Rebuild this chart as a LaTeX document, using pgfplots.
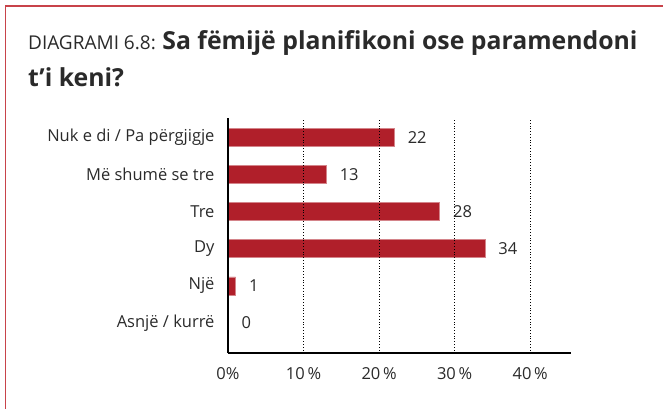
\documentclass[border=0pt]{standalone}
\usepackage{pgfplots}
\pgfplotsset{compat=1.18}
\usepackage{fontspec}
\setmainfont{Open Sans}
\definecolor{barred}{HTML}{B01F2A}
\definecolor{framered}{HTML}{C8434A}
\definecolor{txt}{HTML}{2A2A2A}
\begin{document}
\begin{tikzpicture}[x=1pt,y=1pt]
\useasboundingbox (0,0) rectangle (663,409);
\draw[framered, line width=1.5pt] (5.5,0) -- (5.5,403) -- (663,403);
\node[anchor=base west, inner sep=0, text=txt] at (28,359) {\fontsize{19}{22}\selectfont DIAGRAMI 6.8: \fontsize{24.8}{28}\selectfont\bfseries Sa fëmijë planifikoni ose paramendoni};
\node[anchor=base west, inner sep=0, text=txt] at (28,322) {\fontsize{24.8}{28}\selectfont\bfseries t’i keni?};
\begin{axis}[at={(228pt,86pt)}, anchor=origin, scale only axis,
  width=343pt, height=235pt,
  xbar, xmin=0, xmax=45.4, ymin=-0.81, ymax=5.51,
  bar width=18pt,
  axis x line=bottom, axis y line=left,
  axis line style={line width=1.6pt, -, black},
  axis on top,
  major tick length=0pt,
  xtick={0,10,20,30,40},
  xticklabels={0\%,10\,\%,20\,\%,30\,\%,40\,\%},
  xmajorgrids, major grid style={black, line width=0.8pt, dotted},
  ytick={0,1,2,3,4,5},
  yticklabels={Asnjë / kurrë, Një, Dy, Tre, Më shumë se tre, Nuk e di / Pa përgjigje},
  ticklabel style={font=\fontsize{16.5}{19}\selectfont, text=txt},
  yticklabel style={xshift=-10pt},
  xticklabel style={yshift=-11pt},
  nodes near coords,
  nodes near coords style={anchor=west, xshift=10pt, font=\fontsize{16.5}{19}\selectfont, text=txt},
  point meta=explicit symbolic,
]
\addplot[fill=barred, draw=barred!55, line width=0.5pt] coordinates {
 (0,0) [0]
 (1,1) [1]
 (34,2) [34]
 (28,3) [28]
 (13,4) [13]
 (22,5) [22]
};
\end{axis}
\end{tikzpicture}
\end{document}
